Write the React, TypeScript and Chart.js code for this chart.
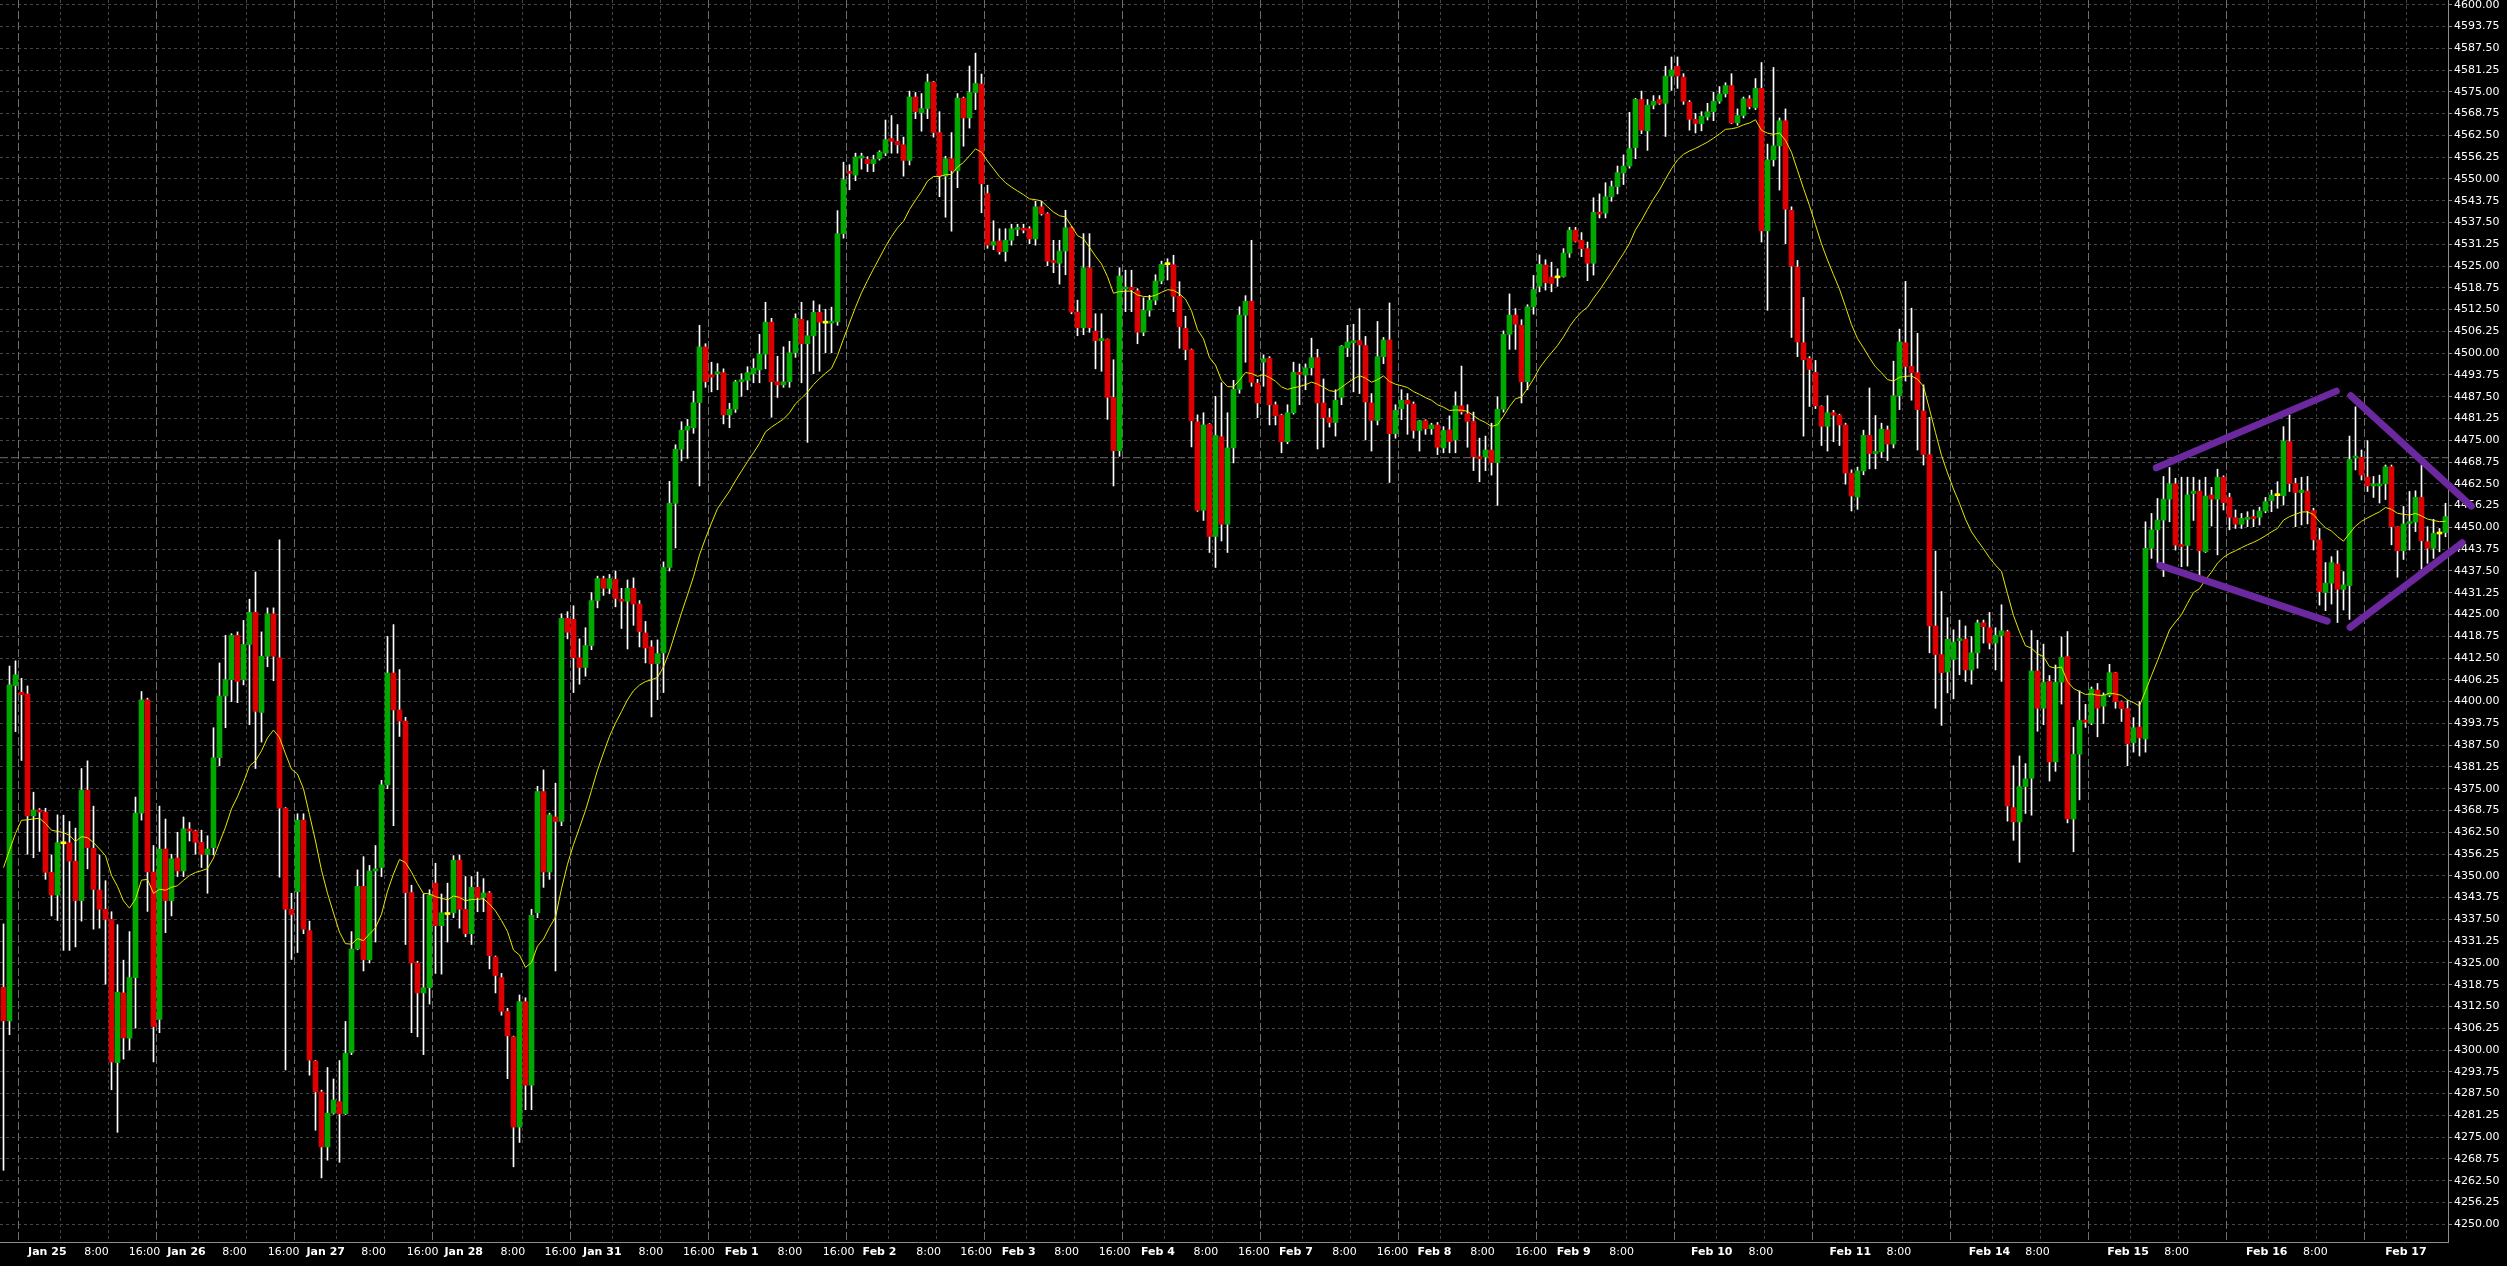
import React, { useEffect, useRef } from 'react';
import { Chart, registerables } from 'chart.js';

Chart.register(...registerables);

// ---------------- data (hourly candles, Jan 24 evening .. Feb 17) ----------------
const opens = [
  4318.0, 4308.4, 4404.6, 4402.7, 4402.2, 4367.2, 4368.9, 4368.3, 4351.0, 4344.5,
  4359.2, 4359.5, 4354.2, 4342.9, 4374.6, 4357.9, 4345.9, 4340.4, 4337.5, 4296.4,
  4316.4, 4303.4, 4320.8, 4368.0, 4400.5, 4351.1, 4308.8, 4357.7, 4342.9, 4355.1,
  4351.4, 4363.4, 4362.9, 4359.6, 4356.2, 4358.1, 4383.9, 4401.6, 4406.3, 4419.0,
  4406.3, 4416.4, 4425.6, 4396.9, 4413.0, 4425.2, 4412.6, 4369.4, 4340.4, 4345.4,
  4366.0, 4334.3, 4296.8, 4288.0, 4272.2, 4281.9, 4285.2, 4281.7, 4299.3, 4329.0,
  4347.0, 4325.9, 4351.4, 4352.4, 4376.1, 4408.2, 4397.6, 4394.4, 4345.2, 4325.0,
  4316.4, 4317.9, 4347.9, 4335.7, 4338.9, 4339.4, 4354.5, 4340.4, 4333.4, 4346.7,
  4343.8, 4345.1, 4326.7, 4320.8, 4311.1, 4303.8, 4277.9, 4313.9, 4289.9, 4339.4,
  4374.2, 4351.1, 4366.9, 4365.6, 4423.9, 4423.6, 4412.6, 4409.8, 4416.1, 4429.0,
  4435.3, 4432.5, 4435.1, 4429.3, 4428.8, 4432.5, 4428.0, 4419.7, 4415.7, 4410.9,
  4414.0, 4438.5, 4456.9, 4472.4, 4477.9, 4478.6, 4485.8, 4501.8, 4493.8, 4494.1,
  4494.4, 4482.3, 4483.9, 4491.8, 4492.2, 4494.1, 4495.2, 4499.7, 4508.9, 4491.8,
  4490.9, 4491.8, 4500.1, 4509.7, 4502.7, 4505.0, 4511.7, 4508.6, 4508.6, 4509.0,
  4534.3, 4552.1, 4551.1, 4556.0, 4555.6, 4554.4, 4555.8, 4557.4, 4561.6, 4560.8,
  4559.8, 4555.3, 4573.5, 4569.0, 4570.2, 4577.8, 4563.3, 4550.8, 4555.8, 4552.4,
  4573.2, 4567.5, 4574.8, 4577.2, 4545.8, 4531.0, 4532.2, 4529.1, 4532.4, 4535.5,
  4535.7, 4535.7, 4532.8, 4542.0, 4540.0, 4526.5, 4525.8, 4529.3, 4536.0, 4511.8,
  4507.3, 4524.5, 4506.3, 4503.6, 4504.0, 4487.3, 4472.0, 4518.4, 4518.9, 4517.9,
  4506.0, 4512.3, 4515.2, 4520.7, 4525.4, 4525.4, 4516.3, 4507.1, 4501.0, 4480.3,
  4454.9, 4479.6, 4447.4, 4476.0, 4450.9, 4472.8, 4489.6, 4510.9, 4514.9, 4491.4,
  4497.4, 4498.5, 4485.2, 4482.2, 4474.6, 4482.9, 4494.5, 4493.7, 4495.8, 4498.7,
  4485.7, 4481.5, 4480.1, 4487.3, 4501.5, 4503.0, 4503.6, 4502.2, 4485.7, 4480.7,
  4499.0, 4503.8, 4476.9, 4484.1, 4486.5, 4485.4, 4477.8, 4480.6, 4478.3, 4479.4,
  4472.8, 4478.0, 4475.1, 4484.9, 4482.6, 4480.4, 4470.3, 4470.2, 4472.2, 4468.6,
  4483.9, 4505.4, 4510.9, 4508.0, 4491.8, 4513.3, 4519.2, 4525.3, 4521.8, 4521.6,
  4522.0, 4528.7, 4535.3, 4532.4, 4530.0, 4525.8, 4540.4, 4540.2, 4544.9, 4547.8,
  4551.7, 4553.7, 4559.0, 4572.8, 4563.8, 4571.2, 4572.8, 4571.7, 4579.5, 4582.3,
  4579.2, 4572.0, 4567.1, 4565.9, 4567.8, 4569.3, 4572.3, 4574.4, 4576.8, 4566.1,
  4568.2, 4573.0, 4570.4, 4576.0, 4535.1, 4555.5, 4559.5, 4566.7, 4541.0, 4524.7,
  4503.0, 4498.5, 4494.5, 4484.7, 4479.0, 4482.9, 4482.2, 4479.4, 4465.6, 4458.7,
  4466.2, 4476.4, 4471.2, 4471.7, 4478.0, 4473.9, 4487.8, 4503.0, 4496.2, 4494.4,
  4483.4, 4470.9, 4421.7, 4413.5, 4408.5, 4412.1, 4417.5, 4417.9, 4409.1, 4414.0,
  4422.6, 4421.2, 4416.8, 4419.0, 4420.1, 4369.6, 4365.5, 4375.6, 4378.0, 4408.8,
  4398.1, 4405.8, 4382.7, 4405.6, 4412.9, 4366.3, 4384.9, 4394.7, 4393.8, 4403.3,
  4398.7, 4401.8, 4408.3, 4400.0, 4398.0, 4388.2, 4392.7, 4389.3, 4444.0, 4449.3,
  4452.1, 4458.1, 4462.5, 4444.9, 4444.8, 4459.7, 4460.4, 4443.0, 4459.3, 4458.1,
  4464.4, 4458.6, 4452.8, 4450.9, 4452.3, 4453.1, 4452.9, 4454.7, 4457.7, 4459.1,
  4459.1, 4474.6, 4462.6, 4460.0, 4460.4, 4454.8, 4446.4, 4431.3, 4434.0, 4439.5,
  4432.2, 4433.3, 4469.9, 4470.1, 4464.4, 4461.9, 4461.9, 4462.5, 4467.4, 4450.2,
  4443.3, 4451.1, 4451.5, 4458.6, 4445.9, 4444.0, 4448.1, 4448.5,
];

const highs = [
  4336.2, 4410.2, 4411.7, 4406.7, 4404.5, 4374.0, 4369.3, 4369.4, 4356.0, 4367.5,
  4367.4, 4365.6, 4363.7, 4380.8, 4383.0, 4370.0, 4356.0, 4348.6, 4339.7, 4336.0,
  4325.8, 4334.0, 4372.6, 4402.9, 4401.0, 4358.7, 4370.0, 4366.3, 4356.2, 4362.5,
  4366.9, 4365.3, 4363.1, 4363.1, 4361.5, 4392.5, 4411.1, 4419.0, 4419.5, 4420.0,
  4423.3, 4429.4, 4437.2, 4420.0, 4426.9, 4426.9, 4446.4, 4369.6, 4345.0, 4367.8,
  4367.8, 4337.0, 4297.0, 4288.5, 4295.0, 4291.7, 4297.0, 4308.2, 4334.0, 4351.7,
  4355.5, 4353.0, 4358.7, 4377.4, 4418.7, 4422.1, 4409.2, 4395.5, 4347.3, 4325.5,
  4344.8, 4346.0, 4353.6, 4344.8, 4347.9, 4355.8, 4356.0, 4349.8, 4349.8, 4351.1,
  4349.2, 4345.5, 4327.0, 4322.0, 4312.0, 4304.0, 4315.8, 4315.0, 4340.4, 4375.7,
  4380.4, 4368.0, 4376.6, 4425.2, 4425.8, 4427.5, 4418.0, 4421.2, 4431.3, 4436.0,
  4436.0, 4436.5, 4437.5, 4432.5, 4434.9, 4435.5, 4429.0, 4423.0, 4417.5, 4417.7,
  4440.1, 4463.2, 4473.7, 4480.3, 4481.0, 4489.1, 4508.0, 4502.7, 4497.4, 4497.0,
  4495.5, 4485.6, 4492.2, 4494.1, 4496.1, 4498.4, 4505.4, 4514.6, 4510.0, 4499.1,
  4501.8, 4503.4, 4511.3, 4514.6, 4509.3, 4515.0, 4513.9, 4512.6, 4513.2, 4540.9,
  4554.8, 4554.1, 4557.4, 4557.4, 4556.4, 4556.8, 4558.1, 4566.9, 4568.2, 4565.6,
  4562.0, 4575.2, 4574.8, 4574.5, 4580.1, 4578.0, 4569.3, 4556.5, 4563.3, 4574.5,
  4573.5, 4582.4, 4586.1, 4580.1, 4548.2, 4538.0, 4535.7, 4535.7, 4537.0, 4537.0,
  4537.0, 4536.3, 4543.6, 4543.6, 4540.3, 4532.4, 4532.4, 4541.0, 4536.3, 4515.2,
  4534.3, 4534.3, 4511.3, 4511.3, 4504.1, 4498.1, 4524.5, 4523.8, 4523.8, 4518.5,
  4515.9, 4516.6, 4522.5, 4526.4, 4527.1, 4528.1, 4520.5, 4510.6, 4501.2, 4482.3,
  4482.9, 4479.8, 4487.6, 4491.5, 4482.9, 4492.2, 4513.3, 4516.5, 4532.4, 4492.5,
  4499.5, 4499.0, 4486.0, 4482.5, 4485.2, 4497.4, 4496.9, 4496.9, 4504.3, 4501.1,
  4492.6, 4484.1, 4489.5, 4502.2, 4508.0, 4508.3, 4512.8, 4504.8, 4488.4, 4509.1,
  4504.5, 4514.4, 4485.2, 4489.5, 4488.4, 4486.0, 4480.7, 4480.9, 4479.9, 4480.1,
  4478.9, 4482.0, 4488.9, 4496.3, 4485.2, 4483.1, 4475.6, 4476.2, 4479.9, 4487.5,
  4506.4, 4517.0, 4512.8, 4509.6, 4513.9, 4522.3, 4528.2, 4526.8, 4526.1, 4524.2,
  4530.0, 4536.1, 4536.1, 4534.6, 4531.9, 4544.6, 4545.7, 4548.9, 4549.4, 4553.7,
  4556.9, 4569.1, 4573.1, 4575.2, 4572.8, 4573.9, 4573.9, 4582.3, 4585.0, 4585.0,
  4580.2, 4572.5, 4568.8, 4569.3, 4571.7, 4574.9, 4576.5, 4577.6, 4580.2, 4570.1,
  4573.5, 4573.9, 4578.8, 4583.4, 4560.0, 4582.0, 4567.5, 4570.1, 4542.0, 4526.6,
  4516.0, 4499.0, 4497.9, 4484.9, 4487.8, 4483.6, 4482.5, 4479.9, 4466.5, 4467.3,
  4477.9, 4490.0, 4482.1, 4479.9, 4479.1, 4497.7, 4506.9, 4520.6, 4512.9, 4505.7,
  4490.9, 4481.6, 4443.2, 4431.6, 4424.1, 4420.6, 4423.4, 4421.7, 4418.7, 4423.4,
  4423.4, 4425.6, 4421.2, 4427.8, 4420.5, 4381.6, 4384.4, 4382.2, 4420.4, 4417.6,
  4416.5, 4407.5, 4410.5, 4418.6, 4420.1, 4392.6, 4403.1, 4399.2, 4404.2, 4405.2,
  4402.5, 4410.7, 4408.4, 4400.2, 4400.3, 4395.4, 4400.0, 4451.6, 4454.0, 4458.3,
  4464.6, 4467.2, 4464.1, 4464.4, 4464.4, 4464.4, 4463.6, 4464.4, 4461.5, 4466.7,
  4464.8, 4459.8, 4455.0, 4454.0, 4454.5, 4455.0, 4455.8, 4458.6, 4460.7, 4463.1,
  4478.9, 4482.3, 4464.1, 4464.4, 4464.6, 4455.5, 4449.7, 4439.9, 4441.6, 4443.3,
  4437.3, 4476.2, 4484.6, 4472.2, 4474.9, 4464.6, 4465.0, 4467.9, 4467.9, 4450.2,
  4456.0, 4460.3, 4460.5, 4467.9, 4450.2, 4452.3, 4449.7, 4456.9,
];

const lows = [
  4265.5, 4304.4, 4391.4, 4383.1, 4356.2, 4355.2, 4357.0, 4349.0, 4338.5, 4337.2,
  4328.6, 4328.6, 4329.6, 4337.0, 4352.0, 4334.7, 4335.0, 4318.9, 4288.6, 4276.4,
  4297.4, 4300.0, 4306.3, 4366.0, 4339.8, 4296.6, 4305.0, 4333.7, 4338.5, 4349.8,
  4349.8, 4360.0, 4356.2, 4352.4, 4345.0, 4356.0, 4381.6, 4392.5, 4400.0, 4399.7,
  4404.8, 4393.4, 4380.8, 4388.4, 4410.0, 4406.0, 4349.6, 4294.3, 4326.0, 4328.0,
  4333.4, 4292.8, 4277.0, 4263.3, 4268.4, 4281.6, 4267.8, 4281.5, 4298.7, 4328.8,
  4322.7, 4325.0, 4331.0, 4349.8, 4375.0, 4364.4, 4390.0, 4330.3, 4305.0, 4303.8,
  4298.7, 4313.2, 4322.0, 4321.8, 4331.0, 4338.0, 4335.0, 4332.5, 4330.3, 4339.7,
  4339.7, 4323.3, 4316.4, 4310.0, 4291.8, 4266.5, 4273.5, 4282.9, 4282.9, 4338.0,
  4346.7, 4349.0, 4322.7, 4364.4, 4418.0, 4402.6, 4405.0, 4407.3, 4414.9, 4426.9,
  4430.5, 4431.0, 4427.2, 4421.0, 4415.1, 4421.9, 4415.7, 4411.1, 4395.6, 4400.6,
  4402.6, 4437.5, 4444.1, 4469.1, 4469.8, 4477.0, 4461.9, 4490.2, 4488.9, 4489.5,
  4479.7, 4478.6, 4483.0, 4487.6, 4489.5, 4491.5, 4491.5, 4495.5, 4481.6, 4487.3,
  4490.2, 4490.2, 4498.8, 4491.5, 4474.4, 4494.1, 4494.8, 4500.1, 4500.1, 4508.0,
  4533.0, 4546.9, 4549.5, 4552.8, 4552.1, 4552.1, 4555.4, 4556.7, 4557.4, 4557.4,
  4550.8, 4554.0, 4567.3, 4563.7, 4567.3, 4562.0, 4544.9, 4539.0, 4535.0, 4547.5,
  4559.4, 4564.6, 4569.9, 4540.3, 4530.1, 4529.7, 4528.4, 4526.4, 4531.0, 4533.7,
  4534.5, 4531.4, 4531.0, 4539.6, 4525.1, 4523.1, 4519.8, 4522.5, 4511.3, 4505.0,
  4505.3, 4506.0, 4495.5, 4494.8, 4481.0, 4461.9, 4470.4, 4511.9, 4511.9, 4502.7,
  4505.0, 4510.6, 4513.9, 4519.9, 4521.0, 4511.9, 4501.4, 4498.1, 4473.1, 4454.6,
  4452.0, 4442.8, 4438.5, 4446.1, 4442.8, 4468.5, 4488.5, 4497.4, 4490.5, 4481.5,
  4490.5, 4479.4, 4479.4, 4471.4, 4474.0, 4482.5, 4485.2, 4489.5, 4493.7, 4472.5,
  4473.0, 4478.8, 4476.2, 4485.2, 4499.0, 4488.9, 4488.4, 4475.1, 4471.9, 4479.4,
  4497.0, 4462.9, 4475.6, 4480.9, 4476.7, 4475.6, 4471.9, 4476.7, 4476.7, 4470.9,
  4471.4, 4471.4, 4471.4, 4482.5, 4473.0, 4466.3, 4463.1, 4466.3, 4465.0, 4456.3,
  4483.1, 4501.1, 4501.1, 4485.7, 4489.5, 4511.2, 4517.6, 4518.1, 4517.6, 4519.2,
  4521.8, 4527.5, 4531.9, 4527.7, 4520.8, 4522.4, 4538.8, 4538.8, 4543.6, 4545.7,
  4548.4, 4553.1, 4555.8, 4563.0, 4558.2, 4570.1, 4571.4, 4562.2, 4575.4, 4576.0,
  4571.4, 4564.0, 4563.2, 4563.8, 4566.9, 4566.7, 4571.7, 4573.5, 4565.9, 4565.4,
  4567.5, 4570.1, 4569.9, 4531.9, 4512.3, 4553.7, 4546.8, 4531.4, 4504.5, 4499.0,
  4476.2, 4484.7, 4484.1, 4473.5, 4471.9, 4474.6, 4473.5, 4462.4, 4454.7, 4455.2,
  4465.1, 4466.8, 4466.8, 4470.0, 4469.2, 4472.8, 4483.8, 4492.0, 4486.5, 4472.2,
  4467.9, 4414.0, 4398.1, 4393.2, 4402.5, 4400.8, 4407.7, 4405.8, 4405.0, 4409.6,
  4416.8, 4415.1, 4409.1, 4405.8, 4365.7, 4360.2, 4353.9, 4367.9, 4367.4, 4391.5,
  4393.4, 4377.2, 4380.0, 4399.3, 4365.2, 4356.9, 4371.8, 4392.6, 4393.4, 4389.9,
  4393.7, 4401.4, 4398.1, 4394.3, 4381.6, 4385.5, 4384.4, 4385.5, 4441.1, 4439.7,
  4435.9, 4451.6, 4443.5, 4438.7, 4438.9, 4452.0, 4435.9, 4442.8, 4450.4, 4442.1,
  4455.0, 4449.3, 4449.7, 4449.7, 4450.2, 4450.2, 4450.7, 4454.2, 4454.5, 4455.5,
  4456.4, 4460.3, 4450.2, 4450.7, 4451.0, 4443.5, 4427.7, 4426.1, 4428.0, 4422.7,
  4426.3, 4423.6, 4466.5, 4463.6, 4460.3, 4458.6, 4457.0, 4458.0, 4445.0, 4435.7,
  4440.8, 4443.5, 4448.8, 4438.0, 4439.7, 4441.1, 4443.0, 4447.3,
];

const closes = [
  4308.4, 4404.8, 4407.7, 4402.0, 4367.2, 4368.9, 4368.3, 4351.0, 4344.5, 4359.5,
  4359.2, 4354.2, 4342.9, 4374.6, 4358.1, 4346.1, 4340.4, 4337.5, 4296.6, 4316.6,
  4303.5, 4320.8, 4368.0, 4400.5, 4351.1, 4306.7, 4357.7, 4342.9, 4354.9, 4351.4,
  4363.5, 4362.9, 4359.6, 4356.2, 4357.7, 4383.9, 4401.6, 4406.3, 4419.0, 4405.8,
  4416.4, 4425.6, 4397.2, 4413.0, 4425.2, 4413.0, 4369.4, 4340.4, 4338.9, 4366.0,
  4334.7, 4297.1, 4288.0, 4272.2, 4281.9, 4285.7, 4281.7, 4299.1, 4329.0, 4347.0,
  4325.9, 4351.4, 4352.0, 4376.1, 4408.2, 4397.6, 4394.4, 4345.2, 4325.0, 4316.4,
  4317.9, 4344.4, 4335.7, 4339.4, 4338.9, 4354.5, 4340.4, 4333.4, 4346.7, 4343.8,
  4345.1, 4327.1, 4321.4, 4311.1, 4304.1, 4277.9, 4313.9, 4289.9, 4338.7, 4374.2,
  4351.1, 4367.5, 4365.6, 4423.9, 4419.9, 4412.6, 4409.8, 4416.1, 4429.0, 4435.3,
  4432.5, 4435.3, 4429.6, 4428.8, 4432.5, 4428.0, 4420.1, 4415.4, 4410.9, 4413.8,
  4438.5, 4456.9, 4472.4, 4477.9, 4479.0, 4485.8, 4501.8, 4491.8, 4493.1, 4494.5,
  4482.3, 4483.9, 4491.8, 4492.4, 4494.4, 4495.7, 4499.7, 4508.9, 4491.8, 4490.9,
  4491.8, 4500.1, 4510.0, 4502.7, 4505.0, 4511.7, 4508.9, 4508.6, 4509.0, 4534.3,
  4549.8, 4551.6, 4556.3, 4556.6, 4554.4, 4555.6, 4557.7, 4561.3, 4560.8, 4559.8,
  4555.3, 4573.5, 4569.3, 4570.2, 4577.8, 4563.3, 4550.8, 4555.8, 4552.4, 4573.2,
  4567.5, 4574.8, 4577.4, 4548.6, 4531.0, 4532.0, 4529.1, 4532.4, 4535.7, 4536.0,
  4535.3, 4532.8, 4542.0, 4540.0, 4526.4, 4526.0, 4529.3, 4536.0, 4511.8, 4507.3,
  4524.5, 4507.3, 4503.6, 4504.2, 4487.3, 4472.0, 4522.1, 4518.9, 4518.2, 4506.0,
  4512.3, 4515.2, 4520.7, 4525.5, 4525.4, 4516.3, 4507.6, 4501.0, 4480.6, 4454.9,
  4479.4, 4447.4, 4476.4, 4450.9, 4472.8, 4489.6, 4510.9, 4514.9, 4491.6, 4485.7,
  4498.4, 4485.2, 4482.0, 4474.6, 4482.9, 4494.5, 4493.9, 4495.8, 4498.7, 4485.7,
  4481.5, 4480.1, 4486.5, 4502.0, 4503.2, 4503.6, 4502.4, 4486.0, 4480.7, 4499.0,
  4503.8, 4476.9, 4483.6, 4486.5, 4485.4, 4477.8, 4480.6, 4478.3, 4479.4, 4473.0,
  4477.8, 4474.6, 4484.9, 4483.1, 4480.4, 4470.3, 4469.7, 4472.2, 4468.6, 4483.9,
  4505.4, 4510.9, 4508.3, 4491.8, 4513.3, 4518.3, 4525.5, 4520.2, 4520.0, 4521.6,
  4528.7, 4535.3, 4532.1, 4530.0, 4525.8, 4540.4, 4539.9, 4544.9, 4547.8, 4551.8,
  4553.7, 4558.7, 4572.8, 4564.0, 4571.2, 4572.3, 4571.7, 4579.5, 4581.3, 4579.5,
  4572.3, 4567.1, 4565.9, 4568.0, 4569.3, 4572.3, 4574.4, 4576.8, 4566.1, 4568.2,
  4573.0, 4570.7, 4576.0, 4535.1, 4555.5, 4559.5, 4566.7, 4541.3, 4525.0, 4503.2,
  4498.1, 4495.3, 4484.9, 4479.0, 4482.9, 4482.2, 4479.4, 4465.6, 4459.0, 4466.2,
  4476.4, 4471.2, 4471.6, 4478.2, 4473.9, 4487.8, 4503.2, 4496.2, 4494.4, 4483.8,
  4470.9, 4421.7, 4413.5, 4408.3, 4417.9, 4417.1, 4418.1, 4409.1, 4414.0, 4422.6,
  4421.5, 4416.8, 4419.0, 4420.3, 4370.1, 4365.5, 4375.6, 4377.8, 4408.8, 4398.1,
  4405.6, 4382.7, 4405.6, 4412.7, 4366.3, 4384.9, 4394.6, 4394.1, 4403.6, 4398.1,
  4401.8, 4408.3, 4400.0, 4398.0, 4387.9, 4392.5, 4389.6, 4444.0, 4449.3, 4452.1,
  4458.1, 4462.5, 4444.9, 4444.5, 4459.3, 4460.4, 4443.3, 4459.0, 4458.1, 4464.4,
  4457.1, 4452.9, 4450.9, 4452.6, 4452.8, 4452.5, 4454.7, 4457.4, 4459.3, 4459.1,
  4474.8, 4462.6, 4460.0, 4460.7, 4454.8, 4446.4, 4431.6, 4434.0, 4439.9, 4432.2,
  4433.5, 4469.5, 4470.1, 4465.0, 4461.9, 4462.2, 4462.5, 4467.4, 4450.2, 4443.3,
  4451.0, 4451.5, 4458.6, 4446.2, 4444.0, 4448.3, 4448.1, 4453.1,
];

// moving average: exponential, period 20; value of the average just before the first bar
const emaPeriod = 20;
const emaSeedPrev = 4357.0;

// price axis tick labels
const priceTickFirst = 4250;
const priceTickLast = 4600;
const priceTickStep = 6.25;

// time axis labels (position in bars, text)
const timeLabelPos = [
  7.3, 15.5, 23.5, 30.5, 38.5, 46.7, 53.7, 61.7, 69.85, 76.7, 84.9, 92.8,
  99.8, 107.9, 115.9, 123.05, 131.05, 139.2, 146.0, 154.2, 162.1, 169.2, 177.2, 185.2,
  192.4, 200.4, 208.4, 215.4, 223.5, 231.5, 238.5, 246.5, 254.6, 261.7, 269.7,
  284.7, 292.9, 307.8, 315.9, 331.0, 339.0, 354.1, 362.2, 377.2, 385.3, 400.4,
];
const timeLabelText = [
  'Jan 25', '8:00', '16:00', 'Jan 26', '8:00', '16:00', 'Jan 27', '8:00', '16:00', 'Jan 28', '8:00', '16:00',
  'Jan 31', '8:00', '16:00', 'Feb 1', '8:00', '16:00', 'Feb 2', '8:00', '16:00', 'Feb 3', '8:00', '16:00',
  'Feb 4', '8:00', '16:00', 'Feb 7', '8:00', '16:00', 'Feb 8', '8:00', '16:00', 'Feb 9', '8:00',
  'Feb 10', '8:00', 'Feb 11', '8:00', 'Feb 14', '8:00', 'Feb 15', '8:00', 'Feb 16', '8:00', 'Feb 17',
];

// horizontal level line
const levelPrice = 4470;

// hand-drawn diamond (4 trend segments): [barStart, priceStart, barEnd, priceEnd]
const diamondSegments = [
  [358.8, 4467.1, 388.8, 4489.1],
  [391.2, 4487.8, 411.3, 4456.1],
  [359.4, 4439.1, 387.3, 4423.1],
  [391.1, 4421.3, 409.8, 4445.6],
];

// ---------------- styling ----------------
const GREEN = 'rgb(0,168,0)';
const RED = 'rgb(222,0,0)';
const DOJI = 'rgb(255,255,0)';
const WICK = '#ffffff';
const MA_COLOR = '#e6e600';
const PURPLE = 'rgb(108,40,158)';
const AXIS = '#8c8c8c';
const GRID = '#464646';
const SEP = '#6e6e6e';
const FONT = 'DejaVu Sans';

const vGridPlugin = {
  id: 'vgrid',
  beforeDatasetsDraw(chart: any) {
    const { ctx, chartArea: a, scales } = chart;
    const x = scales.x;
    ctx.save();
    ctx.lineWidth = 1;
    for (let d = 0; d < 20; d++) {
      const base = 2.5 + 23 * d;
      const lines: [number, boolean][] = [[0, true], [7, false], [15, false]];
      for (const [off, major] of lines) {
        const v = base + off;
        if (v < x.min || v > x.max) continue;
        const px = Math.floor(x.getPixelForValue(v)) + 0.5;
        ctx.strokeStyle = major ? SEP : GRID;
        ctx.setLineDash(major ? [8, 3] : [3, 3]);
        ctx.beginPath();
        ctx.moveTo(px, a.top);
        ctx.lineTo(px, a.bottom);
        ctx.stroke();
      }
    }
    ctx.restore();
  },
};

export default function App() {
  const ref = useRef<HTMLCanvasElement>(null);

  useEffect(() => {
    const canvas = ref.current;
    if (!canvas) return;
    const n = closes.length;
    const idx = closes.map((_, i) => i);

    const alpha = 2 / (emaPeriod + 1);
    const ema: number[] = [];
    let prev = emaSeedPrev;
    for (let i = 0; i < n; i++) {
      prev = prev + alpha * (closes[i] - prev);
      ema.push(prev);
    }

    const priceTicks: number[] = [];
    for (let v = priceTickFirst; v <= priceTickLast + 1e-9; v += priceTickStep) priceTicks.push(v);

    const bodyColors = idx.map((i) =>
      closes[i] > opens[i] ? GREEN : closes[i] < opens[i] ? RED : DOJI
    );

    const xMin = -0.5833;
    const xMax = n - 1 + 0.4167;
    const yMax = 4601.35;
    const yMin = 4244.92;

    const diamondSets = diamondSegments.map((s) => ({
      type: 'line' as const,
      data: [
        { x: s[0], y: s[1] },
        { x: s[2], y: s[3] },
      ],
      borderColor: PURPLE,
      borderWidth: 7,
      borderCapStyle: 'round' as const,
      pointRadius: 0,
      clip: false as any,
      order: 1,
    }));

    const chart = new Chart(canvas, {
      type: 'bar',
      data: {
        datasets: [
          {
            type: 'line',
            data: [
              { x: xMin, y: levelPrice },
              { x: xMax, y: levelPrice },
            ],
            borderColor: SEP,
            borderWidth: 1,
            borderDash: [8, 3],
            pointRadius: 0,
            order: 10,
          } as any,
          {
            type: 'bar',
            data: idx.map((i) => ({ x: i, y: [lows[i], highs[i]] })),
            backgroundColor: WICK,
            barThickness: 1,
            grouped: false,
            order: 9,
          } as any,
          {
            type: 'bar',
            data: idx.map((i) => ({ x: i, y: [opens[i], closes[i]] })),
            backgroundColor: bodyColors,
            barThickness: 5,
            minBarLength: 2,
            grouped: false,
            order: 8,
          } as any,
          {
            type: 'line',
            data: idx.map((i) => ({ x: i, y: ema[i] })),
            borderColor: MA_COLOR,
            borderWidth: 1,
            pointRadius: 0,
            tension: 0,
            order: 7,
          } as any,
          ...(diamondSets as any[]),
        ],
      },
      options: {
        animation: false,
        responsive: false,
        maintainAspectRatio: false,
        devicePixelRatio: 1,
        events: [],
        layout: { padding: 0 },
        plugins: {
          legend: { display: false },
          tooltip: { enabled: false },
          title: { display: false },
        },
        scales: {
          x: {
            type: 'linear',
            min: xMin,
            max: xMax,
            bounds: 'data',
            offset: false,
            grid: { display: false, drawTicks: false, offset: false },
            border: { display: true, color: AXIS, width: 1 },
            ticks: {
              autoSkip: false,
              maxRotation: 0,
              minRotation: 0,
              includeBounds: false,
              padding: 4,
              color: '#ffffff',
              font: (ctx: any) => ({
                family: FONT,
                size: 11,
                weight: (timeLabelText[ctx.index] || '').includes(':') ? 'normal' : 'bold',
              }),
              callback: (_v: any, i: number) => timeLabelText[i] ?? '',
            },
            afterBuildTicks: (s: any) => {
              s.ticks = timeLabelPos.map((v) => ({ value: v }));
            },
            afterFit: (s: any) => {
              s.height = 24;
              s.paddingLeft = 0;
              s.paddingRight = 0;
            },
          } as any,
          y: {
            type: 'linear',
            position: 'right',
            min: yMin,
            max: yMax,
            bounds: 'data',
            beginAtZero: false,
            grid: {
              color: GRID,
              lineWidth: 1,
              drawTicks: true,
              tickLength: 4,
              tickColor: AXIS,
            },
            border: { display: true, color: AXIS, width: 1, dash: [3, 3] },
            ticks: {
              autoSkip: false,
              includeBounds: false,
              padding: 2,
              color: '#ffffff',
              font: { family: FONT, size: 11 },
              callback: (v: any) => Number(v).toFixed(2),
            },
            afterBuildTicks: (s: any) => {
              s.ticks = priceTicks.map((v) => ({ value: v }));
            },
            afterFit: (s: any) => {
              s.width = 59;
              s.paddingTop = 0;
              s.paddingBottom = 0;
            },
          } as any,
        },
      },
      plugins: [vGridPlugin as any],
    });

    return () => chart.destroy();
  }, []);

  return (
    <div
      style={{
        position: 'absolute',
        left: 0,
        top: 0,
        width: 2507,
        height: 1266,
        background: '#000000',
        overflow: 'hidden',
      }}
    >
      <canvas
        ref={ref}
        width={2507}
        height={1266}
        style={{ display: 'block', width: 2507, height: 1266 }}
      />
    </div>
  );
}
